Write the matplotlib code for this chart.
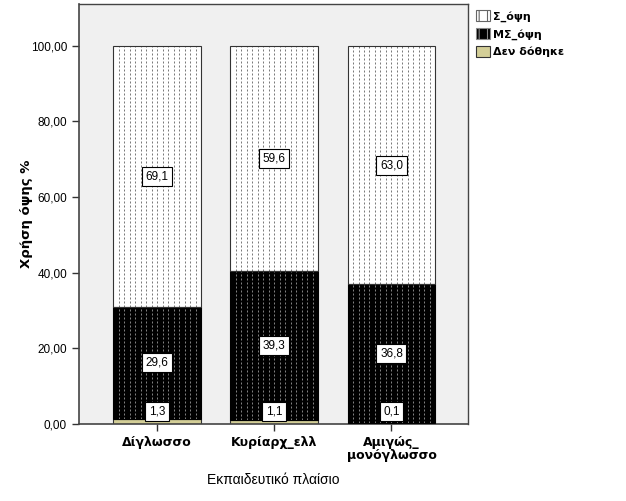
import matplotlib
matplotlib.use("Agg")
import matplotlib.pyplot as plt
import numpy as np
from matplotlib.patches import Patch

categories = ["Δίγλωσσο", "Κυρίαρχ_ελλ", "Αμιγώς_\nμονόγλωσσο"]
den_dothike = [1.3, 1.1, 0.1]
ms_opsi = [29.6, 39.3, 36.8]
s_opsi = [69.1, 59.6, 63.0]
series_names = ["Σ_όψη", "ΜΣ_όψη", "Δεν δόθηκε"]
yticks = [0, 20, 40, 60, 80, 100]

plt.rcParams['font.family'] = ['Arial', 'Liberation Sans', 'DejaVu Sans']
plt.rcParams['hatch.linewidth'] = 0.8

fig = plt.figure(figsize=(6.26, 5.01), dpi=100)
ax = fig.add_axes([0.126, 0.154, 0.622, 0.838])
ax.set_facecolor('#F0F0F0')

x = np.arange(len(categories))
w = 0.75
bottom1 = np.array(den_dothike)
bottom2 = bottom1 + np.array(ms_opsi)

# Δεν δόθηκε
ax.bar(x, den_dothike, w, color='#D3CE97', edgecolor='#333333', linewidth=0.8, zorder=2)
# ΜΣ_όψη
ax.bar(x, ms_opsi, w, bottom=bottom1, color='black', linewidth=0, zorder=2)
# Σ_όψη
ax.bar(x, s_opsi, w, bottom=bottom2, color='white', linewidth=0, zorder=2)

# dashed vertical texture inside the bars
n_lines = 15
for i in range(len(categories)):
    xs = np.linspace(x[i] - w / 2, x[i] + w / 2, n_lines + 2)[1:-1]
    ax.vlines(xs, bottom1[i], bottom2[i], colors='#808080', linewidth=0.72,
              linestyles=(0, (2, 2)), zorder=2.5)
    ax.vlines(xs, bottom2[i], bottom2[i] + s_opsi[i], colors='#7a7a7a', linewidth=0.72,
              linestyles=(0, (2, 2)), zorder=2.5)

ax.bar(x, ms_opsi, w, bottom=bottom1, fill=False, edgecolor='black', linewidth=0.8, zorder=3)
ax.bar(x, s_opsi, w, bottom=bottom2, fill=False, edgecolor='#333333', linewidth=0.8, zorder=3)

def fmt(v):
    return f"{v:.1f}".replace('.', ',')

box = dict(boxstyle='square,pad=0.3', facecolor='white', edgecolor='black', linewidth=0.8)
for i in range(len(categories)):
    segs = [(0, den_dothike[i]), (bottom1[i], ms_opsi[i]), (bottom2[i], s_opsi[i])]
    for b, v in segs:
        yc = max(b + v / 2, 3.3)
        ax.text(x[i], yc, fmt(v), ha='center', va='center', fontsize=8.5, bbox=box, zorder=5)

ax.set_xlim(-0.667, 2.655)
ax.set_ylim(0, 111)
ax.set_yticks(yticks)
ax.set_yticklabels([f"{t:.2f}".replace('.', ',') for t in yticks], fontsize=8.5)
ax.set_xticks(x)
ax.set_xticklabels(categories, fontsize=9, fontweight='bold', linespacing=1.0,
                   family=['DejaVu Sans'])
ax.tick_params(axis='both', direction='out', length=5, width=1, color='#333333')
ax.tick_params(axis='x', pad=4)
for s in ax.spines.values():
    s.set_color('#444444')
    s.set_linewidth(1)
ax.spines['left'].set_linewidth(1.2)
ax.spines['bottom'].set_linewidth(1.2)

ax.set_ylabel("Χρήση όψης %", fontsize=9.5, fontweight='bold', family=['DejaVu Sans'])
ax.yaxis.set_label_coords(-0.118, 0.5)
ax.set_xlabel("Εκπαιδευτικό πλαίσιο", fontsize=10, labelpad=8)

handles = [
    Patch(facecolor='white', edgecolor='#666666', hatch='||', linewidth=0.8),
    Patch(facecolor='black', edgecolor='#888888', hatch='||', linewidth=0.8),
    Patch(facecolor='#D3CE97', edgecolor='#333333', linewidth=0.8),
]
fig.legend(handles, series_names, loc='upper left', bbox_to_anchor=(0.745, 1.0),
           frameon=False, prop={'size': 8, 'weight': 'bold', 'family': ['DejaVu Sans']},
           handlelength=1.2, handleheight=1.2, handletextpad=0.3, labelspacing=0.55)

fig.savefig("out.png", dpi=100, facecolor='white')
